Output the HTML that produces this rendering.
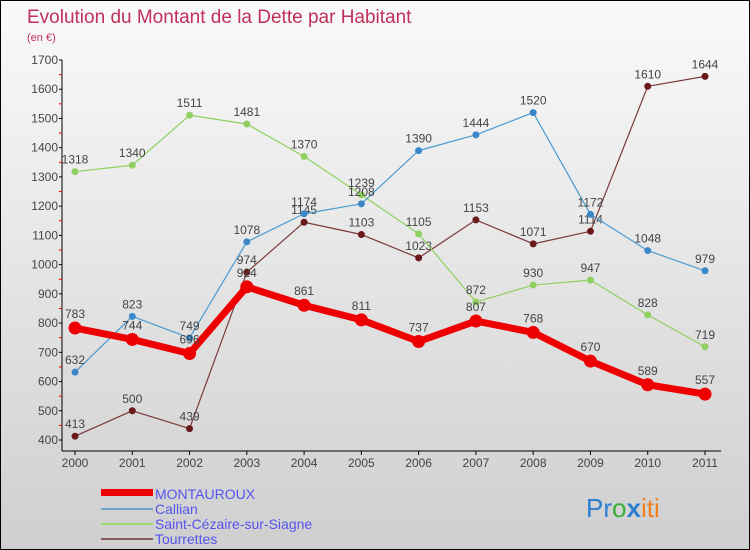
<!DOCTYPE html>
<html><head><meta charset="utf-8"><style>
body{margin:0;}
#c{position:relative;width:748px;height:548px;border:1px solid #000;background:linear-gradient(#fafafa,#cfcfcf);overflow:hidden;font-family:"Liberation Sans",sans-serif;}
</style></head><body>
<div id="c">
<svg id="s" width="748" height="548" xmlns="http://www.w3.org/2000/svg">
<text x="26" y="22" font-size="19" fill="#c0305a">Evolution du Montant de la Dette par Habitant</text>
<text x="26" y="40" font-size="11" fill="#c0305a">(en €)</text>
<g id="axes"></g><g id="series"></g>
<g>
<rect x="100" y="488" width="52" height="7" fill="#ee0000"/>
<text x="154" y="498" font-size="14" fill="#5555ee">MONTAUROUX</text>
<rect x="100" y="507" width="52" height="2" fill="#6ea5c8"/>
<text x="154" y="513" font-size="14" fill="#5555ee">Callian</text>
<rect x="100" y="522" width="52" height="2" fill="#9ed870"/>
<text x="154" y="528" font-size="14" fill="#5555ee">Saint-Cézaire-sur-Siagne</text>
<rect x="100" y="537" width="52" height="2" fill="#8a5a5a"/>
<text x="154" y="543" font-size="14" fill="#5555ee">Tourrettes</text>
</g>
<text x="585" y="516" font-size="26"><tspan fill="#2a7fd0">Pr</tspan><tspan fill="#3ab03a">o</tspan><tspan fill="#2a7fd0" font-weight="bold">x</tspan><tspan fill="#f08020">iti</tspan></text>
</svg></div>
<script>
const years=["2000","2001","2002","2003","2004","2005","2006","2007","2008","2009","2010","2011"];
const yTicks=[400,500,600,700,800,900,1000,1100,1200,1300,1400,1500,1600,1700];
const montauroux=[783,744,696,924,861,811,737,807,768,670,589,557];
const callian=[632,823,749,1078,1174,1208,1390,1444,1520,1172,1048,979];
const saintCezaire=[1318,1340,1511,1481,1370,1239,1105,872,930,947,828,719];
const tourrettes=[413,500,439,974,1145,1103,1023,1153,1071,1114,1610,1644];
const NS="http://www.w3.org/2000/svg";
const X=i=>74+i*(630/11);
const Y=v=>439-(v-400)*(380/1300);
function mk(t,a,p){const e=document.createElementNS(NS,t);for(const k in a)e.setAttribute(k,a[k]);p.appendChild(e);return e;}
const ax=document.getElementById('axes');
let l=mk('line',{x1:61,y1:59,x2:61,y2:450,stroke:'#000'},ax);


l=mk('line',{x1:61,y1:450,x2:720,y2:450,stroke:'#000'},ax);


yTicks.forEach((v,i)=>{const y=Y(v);mk('line',{x1:58,y1:y,x2:61,y2:y,stroke:'#000'},ax);
if(i<yTicks.length-1)mk('line',{x1:58,y1:Y(v+50),x2:61,y2:Y(v+50),stroke:'#e00'},ax);
const t=mk('text',{x:57,y:y+4,'font-size':12,fill:'#444','text-anchor':'end'},ax);t.textContent=v;

});
years.forEach((yr,i)=>{mk('line',{x1:X(i),y1:450,x2:X(i),y2:454,stroke:'#000'},ax);
const t=mk('text',{x:X(i),y:466,'font-size':12,fill:'#444','text-anchor':'middle'},ax);t.textContent=yr;

});
const sg=document.getElementById('series');
function draw(d,name,color,w,r,dot){const g=mk('g',{},sg);


mk('polyline',{points:d.map((v,i)=>X(i)+','+Y(v)).join(' '),fill:'none',stroke:color,'stroke-width':w,'stroke-linejoin':'round'},g);
d.forEach((v,i)=>{const c=mk('circle',{cx:X(i),cy:Y(v),r:r,fill:dot},g);


const t=mk('text',{x:X(i),y:Y(v)-8-(r>4?2:0),'font-size':12,fill:'#444','text-anchor':'middle'},g);t.textContent=v;

});}
draw(tourrettes,'tourrettes','#7a3a3a',1.2,3.5,'#6a1a1a');
draw(saintCezaire,'saint-cezaire','#8fd060',1.2,3.5,'#8fd060');
draw(callian,'callian','#4a9ad0',1.2,3.5,'#3a88c8');
draw(montauroux,'montauroux','#ee0000',7,6.5,'#ee0000');
</script>
</body></html>
